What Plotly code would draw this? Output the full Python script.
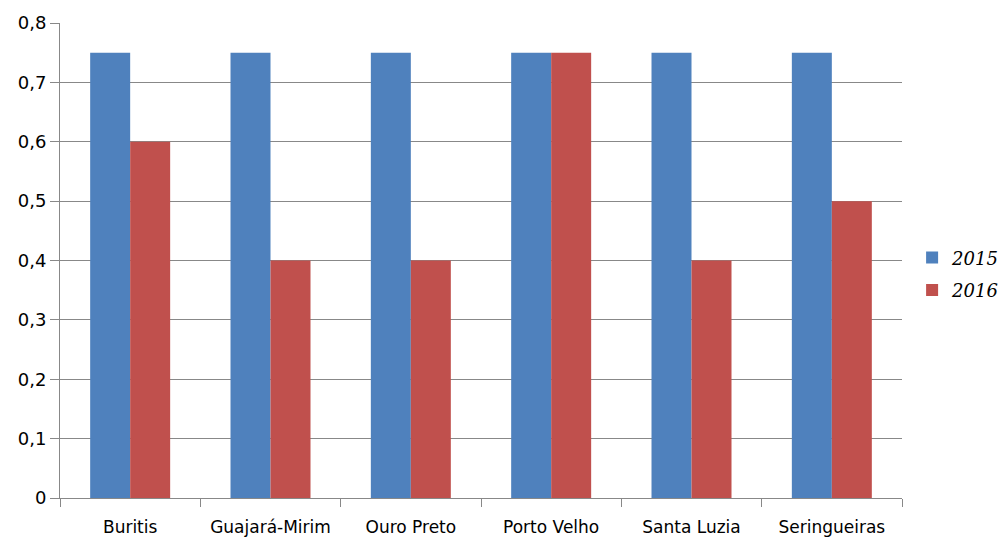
import plotly.graph_objects as go

cities = ["Buritis", "Guajará-Mirim", "Ouro Preto", "Porto Velho", "Santa Luzia", "Seringueiras"]
values_2015 = [0.75, 0.75, 0.75, 0.75, 0.75, 0.75]
values_2016 = [0.6, 0.4, 0.4, 0.75, 0.4, 0.5]
y_ticks = [0, 0.1, 0.2, 0.3, 0.4, 0.5, 0.6, 0.7, 0.8]
y_tick_labels = ["0", "0,1", "0,2", "0,3", "0,4", "0,5", "0,6", "0,7", "0,8"]

fig = go.Figure()
fig.add_trace(go.Bar(x=cities, y=values_2015, name="2015", legendgroup="a",
                     marker=dict(color="#4F81BD", line=dict(width=0))))
fig.add_trace(go.Bar(x=cities, y=values_2016, name="2016", legendgroup="b",
                     marker=dict(color="#C0504D", line=dict(width=0))))

fig.update_layout(
    width=1002, height=538,
    margin=dict(l=60, r=100, t=23, b=40, autoexpand=False),
    paper_bgcolor="white", plot_bgcolor="white",
    barmode="group", bargap=0.43, bargroupgap=0,
    font=dict(family="DejaVu Sans", size=17, color="black"),
    legend=dict(
        x=1.012, y=0.472, xanchor="left", yanchor="middle",
        font=dict(family="DejaVu Serif", size=18, color="black", style="italic"),
        tracegroupgap=6, itemwidth=30,
    ),
    xaxis=dict(
        showline=True, linecolor="#888888", linewidth=1,
        ticks="outside", tickson="boundaries", ticklen=8, tickcolor="#888888",
        showgrid=False, tickfont=dict(family="DejaVu Sans", size=17),
        ticklabelstandoff=14,
    ),
    yaxis=dict(
        range=[0, 0.8], tickvals=y_ticks, ticktext=y_tick_labels,
        showline=True, linecolor="#888888", linewidth=1,
        ticks="outside", ticklen=9, tickcolor="#888888",
        showgrid=True, gridcolor="#888888", gridwidth=1,
        zeroline=False, tickfont=dict(family="DejaVu Sans", size=18),
    ),
)

fig.write_html("out.html")
